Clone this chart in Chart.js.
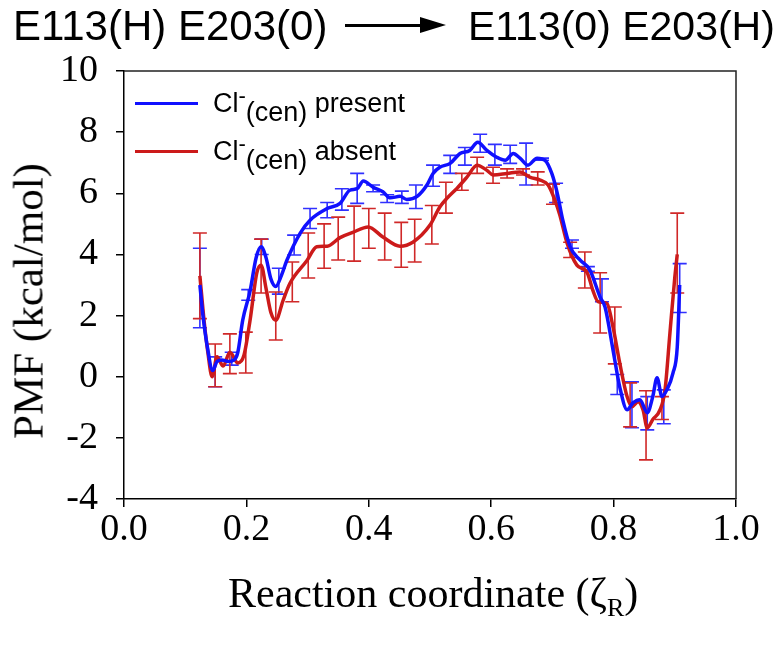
<!DOCTYPE html>
<html>
<head>
<meta charset="utf-8">
<script src="https://cdn.jsdelivr.net/npm/chart.js@4.4.1/dist/chart.umd.min.js"></script>
<style>
  html, body { margin: 0; padding: 0; background: #fff; }
  #wrap { position: relative; width: 776px; height: 651px; overflow: hidden; }
  #c { position: absolute; left: 0; top: 0; }
  .t { position: absolute; font-family: "Liberation Sans", Arial, sans-serif; color: #000; white-space: nowrap; line-height: 1; }
  .title { font-size: 42px; top: 5px; }
  .arrow { position: absolute; left: 345px; top: 24px; width: 80px; height: 3px; background: #000; }
  .head { position: absolute; left: 420px; top: 17px; width: 0; height: 0;
          border-top: 8.5px solid transparent; border-bottom: 8.5px solid transparent; border-left: 26px solid #000; }
  .leg { font-size: 27px; }
  .leg .sup { position: relative; top: -9px; font-size: 22px; }
  .leg .sub { position: relative; top: 9px; }
  .legline { position: absolute; left: 135px; width: 63px; height: 3px; }
  .serif { position: absolute; font-family: "Liberation Serif", "Times New Roman", serif; font-size: 42px; line-height: 1; white-space: nowrap; color: #000; }
  .serif .sub { position: relative; top: 9px; font-size: 26px; }
  .ytitle { left: 28px; top: 301px; transform: translate(-50%, -50%) rotate(-90deg); font-size: 43px; }
</style>
</head>
<body>
<div id="wrap">
  <canvas id="c" width="776" height="651"></canvas>
  <div class="t title" style="left:13px">E113(H) E203(0)</div>
  <div class="arrow"></div><div class="head"></div>
  <div class="t title" style="left:468px;font-size:41px;top:6px">E113(0) E203(H)</div>
  <div class="legline" style="top:102px;background:#1010ff"></div>
  <div class="legline" style="top:150px;background:#cc1a1a"></div>
  <div class="t leg" style="left:213px;top:90px">Cl<span class="sup">-</span><span class="sub">(cen)</span> present</div>
  <div class="t leg" style="left:213px;top:138px">Cl<span class="sup">-</span><span class="sub">(cen)</span> absent</div>
  <div class="serif" style="left:228px;top:572px">Reaction coordinate (ζ<span class="sub">R</span>)</div>
  <div class="serif ytitle">PMF (kcal/mol)</div>
</div>
<script>
// Cl- (cen) present
const presentX = [0.124, 0.129, 0.136, 0.145, 0.152, 0.160, 0.170, 0.180, 0.186, 0.194, 0.206, 0.216, 0.224, 0.232, 0.240, 0.248, 0.257, 0.266, 0.288, 0.304, 0.332, 0.353, 0.369, 0.381, 0.391, 0.407, 0.423, 0.435, 0.451, 0.462, 0.479, 0.495, 0.505, 0.516, 0.533, 0.549, 0.565, 0.578, 0.593, 0.609, 0.623, 0.636, 0.647, 0.660, 0.675, 0.688, 0.699, 0.708, 0.717, 0.729, 0.745, 0.761, 0.778, 0.786, 0.799, 0.810, 0.822, 0.832, 0.843, 0.855, 0.864, 0.871, 0.879, 0.887, 0.897, 0.904, 0.908];
const presentY = [3.0, 2.0, 1.0, 0.2, 0.5, 0.55, 0.5, 0.55, 0.8, 1.85, 2.8, 3.9, 4.25, 3.9, 3.2, 2.95, 3.3, 3.8, 4.7, 5.12, 5.5, 5.67, 6.1, 6.15, 6.4, 6.2, 6.05, 5.85, 5.9, 5.8, 5.9, 6.27, 6.65, 6.85, 6.98, 7.3, 7.4, 7.67, 7.4, 7.18, 7.08, 7.3, 7.15, 6.92, 7.15, 7.08, 6.65, 6.0, 5.12, 4.25, 3.82, 3.5, 2.6, 2.28, 0.88, -0.33, -1.08, -0.85, -0.75, -1.18, -0.65, -0.03, -0.65, -0.43, 0.12, 0.97, 3.0];
const presentErrX = [0.124, 0.149, 0.176, 0.203, 0.225, 0.253, 0.278, 0.304, 0.332, 0.356, 0.381, 0.407, 0.430, 0.454, 0.477, 0.505, 0.533, 0.557, 0.582, 0.606, 0.631, 0.657, 0.683, 0.706, 0.732, 0.758, 0.781, 0.806, 0.830, 0.855, 0.882, 0.908];
const presentErrLo = [1.6, -0.33, 0.38, 2.5, 4.0, 2.7, 3.98, 4.85, 5.2, 5.45, 5.67, 6.05, 5.7, 5.67, 5.5, 6.23, 6.65, 6.92, 7.34, 6.92, 6.98, 6.27, 7.08, 5.7, 4.2, 3.45, 2.45, -0.58, -1.67, -1.74, -1.54, 2.1];
const presentErrHi = [4.2, 0.65, 0.8, 2.85, 4.5, 3.55, 4.63, 5.5, 5.7, 6.15, 6.65, 6.27, 5.95, 6.07, 6.27, 6.92, 7.24, 7.5, 7.93, 7.6, 7.57, 7.64, 7.15, 6.33, 4.47, 3.6, 3.2, 0.07, -0.17, -0.65, -0.43, 3.7];

// Cl- (cen) absent
const absentX = [0.124, 0.131, 0.137, 0.144, 0.152, 0.162, 0.173, 0.186, 0.196, 0.206, 0.217, 0.224, 0.232, 0.240, 0.248, 0.260, 0.271, 0.299, 0.315, 0.332, 0.353, 0.374, 0.399, 0.423, 0.451, 0.472, 0.500, 0.516, 0.528, 0.544, 0.560, 0.577, 0.593, 0.603, 0.626, 0.647, 0.663, 0.680, 0.693, 0.704, 0.712, 0.724, 0.740, 0.757, 0.766, 0.775, 0.789, 0.799, 0.810, 0.822, 0.830, 0.840, 0.848, 0.855, 0.864, 0.876, 0.884, 0.892, 0.900, 0.904];
const absentY = [3.3, 1.8, 0.8, 0.0, 0.65, 0.35, 0.8, 0.45, 0.7, 1.85, 3.4, 3.65, 2.9, 2.1, 1.85, 2.5, 3.05, 3.8, 4.25, 4.27, 4.55, 4.72, 4.9, 4.57, 4.27, 4.4, 4.96, 5.55, 5.84, 6.16, 6.52, 6.92, 6.75, 6.6, 6.65, 6.7, 6.53, 6.43, 6.27, 5.78, 5.3, 4.37, 3.65, 3.4, 2.83, 2.45, 2.4, 1.63, 0.45, -0.65, -0.98, -0.82, -1.08, -1.67, -1.4, -1.08, -0.43, 1.42, 3.25, 4.0];
const absentErrX = [0.124, 0.149, 0.173, 0.199, 0.224, 0.248, 0.275, 0.301, 0.327, 0.350, 0.376, 0.400, 0.426, 0.453, 0.475, 0.503, 0.526, 0.552, 0.577, 0.603, 0.626, 0.652, 0.676, 0.701, 0.729, 0.753, 0.778, 0.802, 0.827, 0.853, 0.879, 0.904];
const absentErrLo = [1.9, -0.33, 0.1, 0.12, 2.74, 1.2, 2.45, 3.23, 3.55, 3.82, 3.78, 4.2, 3.82, 3.58, 3.75, 4.34, 5.35, 6.1, 6.65, 6.33, 6.5, 6.6, 6.27, 5.64, 3.9, 2.9, 1.43, 0.42, -1.64, -2.72, -1.4, 2.74];
const absentErrHi = [4.7, 1.07, 1.4, 1.46, 4.5, 2.77, 3.75, 4.7, 5.0, 5.22, 5.58, 5.5, 5.35, 5.05, 5.15, 5.6, 6.36, 6.65, 7.18, 6.85, 6.8, 6.8, 6.7, 6.3, 4.4, 4.08, 3.4, 2.28, -0.2, -0.46, -0.65, 5.35];

const xTicks = [0, 0.2, 0.4, 0.6, 0.8, 1.0];
const yTicks = [-4, -2, 0, 2, 4, 6, 8, 10];

const blue = '#1010ff';
const red = '#cc1a1a';

const toPoints = (xs, ys) => xs.map((x, i) => ({ x, y: ys[i] }));

// error bars, drawn through the chart scales
const errorBars = {
  id: 'errorBars',
  beforeDatasetsDraw(chart) {
    const { ctx, scales: { x, y } } = chart;
    const sets = [
      [presentErrX, presentErrLo, presentErrHi, '#3030ff'],
      [absentErrX, absentErrLo, absentErrHi, '#d02828'],
    ];
    ctx.save();
    ctx.lineWidth = 1.6;
    sets.forEach(([xs, lo, hi, col]) => {
      ctx.strokeStyle = col;
      xs.forEach((v, i) => {
        const px = x.getPixelForValue(v);
        const p1 = y.getPixelForValue(lo[i]);
        const p2 = y.getPixelForValue(hi[i]);
        ctx.beginPath();
        ctx.moveTo(px, p1); ctx.lineTo(px, p2);
        ctx.moveTo(px - 7, p1); ctx.lineTo(px + 7, p1);
        ctx.moveTo(px - 7, p2); ctx.lineTo(px + 7, p2);
        ctx.stroke();
      });
    });
    ctx.restore();
  },
};

// top and right frame lines
const frame = {
  id: 'frame',
  afterDraw(chart) {
    const { ctx, chartArea: a } = chart;
    ctx.save();
    ctx.strokeStyle = '#222';
    ctx.lineWidth = 1.5;
    ctx.beginPath();
    ctx.moveTo(a.left, a.top); ctx.lineTo(a.right, a.top); ctx.lineTo(a.right, a.bottom);
    ctx.stroke();
    ctx.restore();
  },
};

new Chart(document.getElementById('c'), {
  type: 'line',
  data: {
    datasets: [
      {
        label: 'present',
        data: toPoints(presentX, presentY),
        borderColor: blue,
        borderWidth: 3.5,
        pointRadius: 0,
        cubicInterpolationMode: 'monotone',
        fill: false,
      },
      {
        label: 'absent',
        data: toPoints(absentX, absentY),
        borderColor: red,
        borderWidth: 3.5,
        pointRadius: 0,
        cubicInterpolationMode: 'monotone',
        fill: false,
      },
    ],
  },
  options: {
    responsive: false,
    animation: false,
    layout: { padding: { left: 0, right: 40, top: 71, bottom: 0 } },
    plugins: { legend: { display: false }, tooltip: { enabled: false } },
    scales: {
      x: {
        type: 'linear',
        min: 0,
        max: 1,
        afterBuildTicks: (s) => { s.ticks = xTicks.map((v) => ({ value: v })); },
        afterFit: (s) => { s.height = 152; },
        grid: { drawOnChartArea: false, drawTicks: true, tickLength: 8, color: '#000', lineWidth: 1.5 },
        border: { display: true, color: '#000', width: 1.5 },
        ticks: {
          padding: 0,
          color: '#000',
          font: { family: '"Liberation Serif", "Times New Roman", serif', size: 38 },
          callback: (v) => Number(v).toFixed(1),
        },
      },
      y: {
        min: -4,
        max: 10,
        afterBuildTicks: (s) => { s.ticks = yTicks.map((v) => ({ value: v })); },
        afterFit: (s) => { s.width = 124; },
        grid: { drawOnChartArea: false, drawTicks: true, tickLength: 8, color: '#000', lineWidth: 1.5 },
        border: { display: true, color: '#000', width: 1.5 },
        ticks: {
          padding: 18,
          color: '#000',
          font: { family: '"Liberation Serif", "Times New Roman", serif', size: 38 },
        },
      },
    },
  },
  plugins: [errorBars, frame],
});
</script>
</body>
</html>
